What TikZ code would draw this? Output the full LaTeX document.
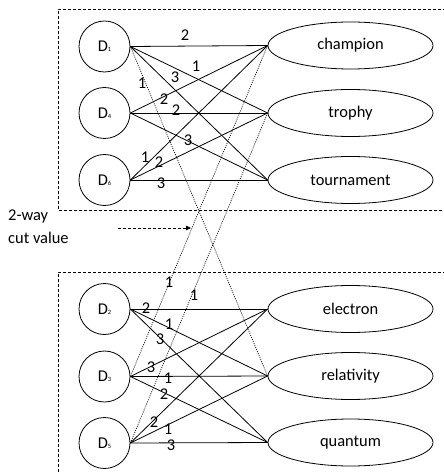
\documentclass[tikz,border=0pt]{standalone}
\usepackage{fontspec}
\setmainfont{Carlito}
\usetikzlibrary{arrows.meta,shapes.geometric}
\begin{document}
\begin{tikzpicture}[x=1bp,y=-1bp,
  doc/.style={draw,circle,minimum size=51bp,inner sep=0pt,line width=0.8bp,font=\fontsize{16.5}{16.5}\selectfont},
  word/.style={draw,ellipse,minimum width=165bp,minimum height=47bp,inner sep=0pt,line width=0.8bp,font=\fontsize{16.5}{16.5}\selectfont},
  edge/.style={line width=0.8bp},
  cross/.style={line width=0.7bp,dash pattern=on 1bp off 1.2bp},
  boxline/.style={line width=0.8bp,dash pattern=on 3bp off 2bp},
  wt/.style={inner sep=0pt,font=\fontsize{16.5}{16.5}\selectfont}]
\useasboundingbox (0,0) rectangle (444,472);
\newcommand{\dsub}[1]{D{\fontsize{6.5}{6.5}\selectfont #1}}
% boxes
\coordinate (t1) at (446,9); \coordinate (t2) at (58,9); \coordinate (t3) at (58,210); \coordinate (t4) at (446,210);
\draw[boxline] (t1) -- (t2) -- (t3) -- (t4);
\coordinate (b1) at (446,272); \coordinate (b2) at (58,272); \coordinate (b3) at (58,473);
\draw[boxline] (b1) -- (b2) -- (b3);
% nodes
\node[doc] (D1) at (104.5,46.5) {\dsub{1}};
\node[doc] (D4) at (104.5,113) {\dsub{4}};
\node[doc] (D6) at (104.5,180) {\dsub{6}};
\node[doc] (D2) at (104.5,309) {\dsub{2}};
\node[doc] (D3) at (104.5,376.5) {\dsub{3}};
\node[doc] (D5) at (104.5,443) {\dsub{5}};
\node[word] (ch) at (350.5,45.5) {champion};
\node[word] (tr) at (350.5,113) {trophy};
\node[word] (to) at (350.5,180) {tournament};
\node[word] (el) at (350.5,309) {electron};
\node[word] (re) at (350.5,376) {relativity};
\node[word] (qu) at (350.5,442.5) {quantum};
% edges
\foreach \a in {D1,D4,D6}{\foreach \b in {ch,tr,to}{\draw[edge] (\a.east) -- (\b.west);}}
\foreach \a in {D2,D3,D5}{\foreach \b in {el,re,qu}{\draw[edge] (\a.east) -- (\b.west);}}
% cross edges
\draw[cross] (D1.east) -- (re.west);
\draw[cross] (ch.west) -- (D3.east);
\draw[cross] (tr.west) -- (D5.east);
% weights top
\node[wt] (w1) at (185,35) {2};
\node[wt] (w2) at (196,66) {1};
\node[wt] (w3) at (175,77) {3};
\node[wt] (w4) at (142,83) {1};
\node[wt] (w5) at (164,99) {2};
\node[wt] (w6) at (176,110) {2};
\node[wt] (w7) at (188,140) {3};
\node[wt] (w8) at (145,157) {1};
\node[wt] (w9) at (159,162) {2};
\node[wt] (w10) at (161,183) {3};
% weights bottom
\node[wt] (v1) at (169,282) {1};
\node[wt] (v2) at (194,295) {1};
\node[wt] (v3) at (146,308) {2};
\node[wt] (v4) at (169,324) {1};
\node[wt] (v5) at (160,339) {3};
\node[wt] (v6) at (151,367) {3};
\node[wt] (v7) at (168,378) {1};
\node[wt] (v8) at (164,394) {2};
\node[wt] (v9) at (154,422) {2};
\node[wt] (v10) at (168,429) {1};
\node[wt] (v11) at (171,445) {3};
% cut value
\node[inner sep=0pt,anchor=west,align=left,font=\fontsize{16.5}{23}\selectfont] (cut) at (8,227) {2-way\\cut value};
\coordinate (as) at (118,228);
\coordinate (ae) at (191,228);
\draw[line width=0.8bp,dash pattern=on 3bp off 2bp,-{Triangle[length=5bp,width=4.5bp]}] (as) -- (ae);
\end{tikzpicture}
\end{document}
